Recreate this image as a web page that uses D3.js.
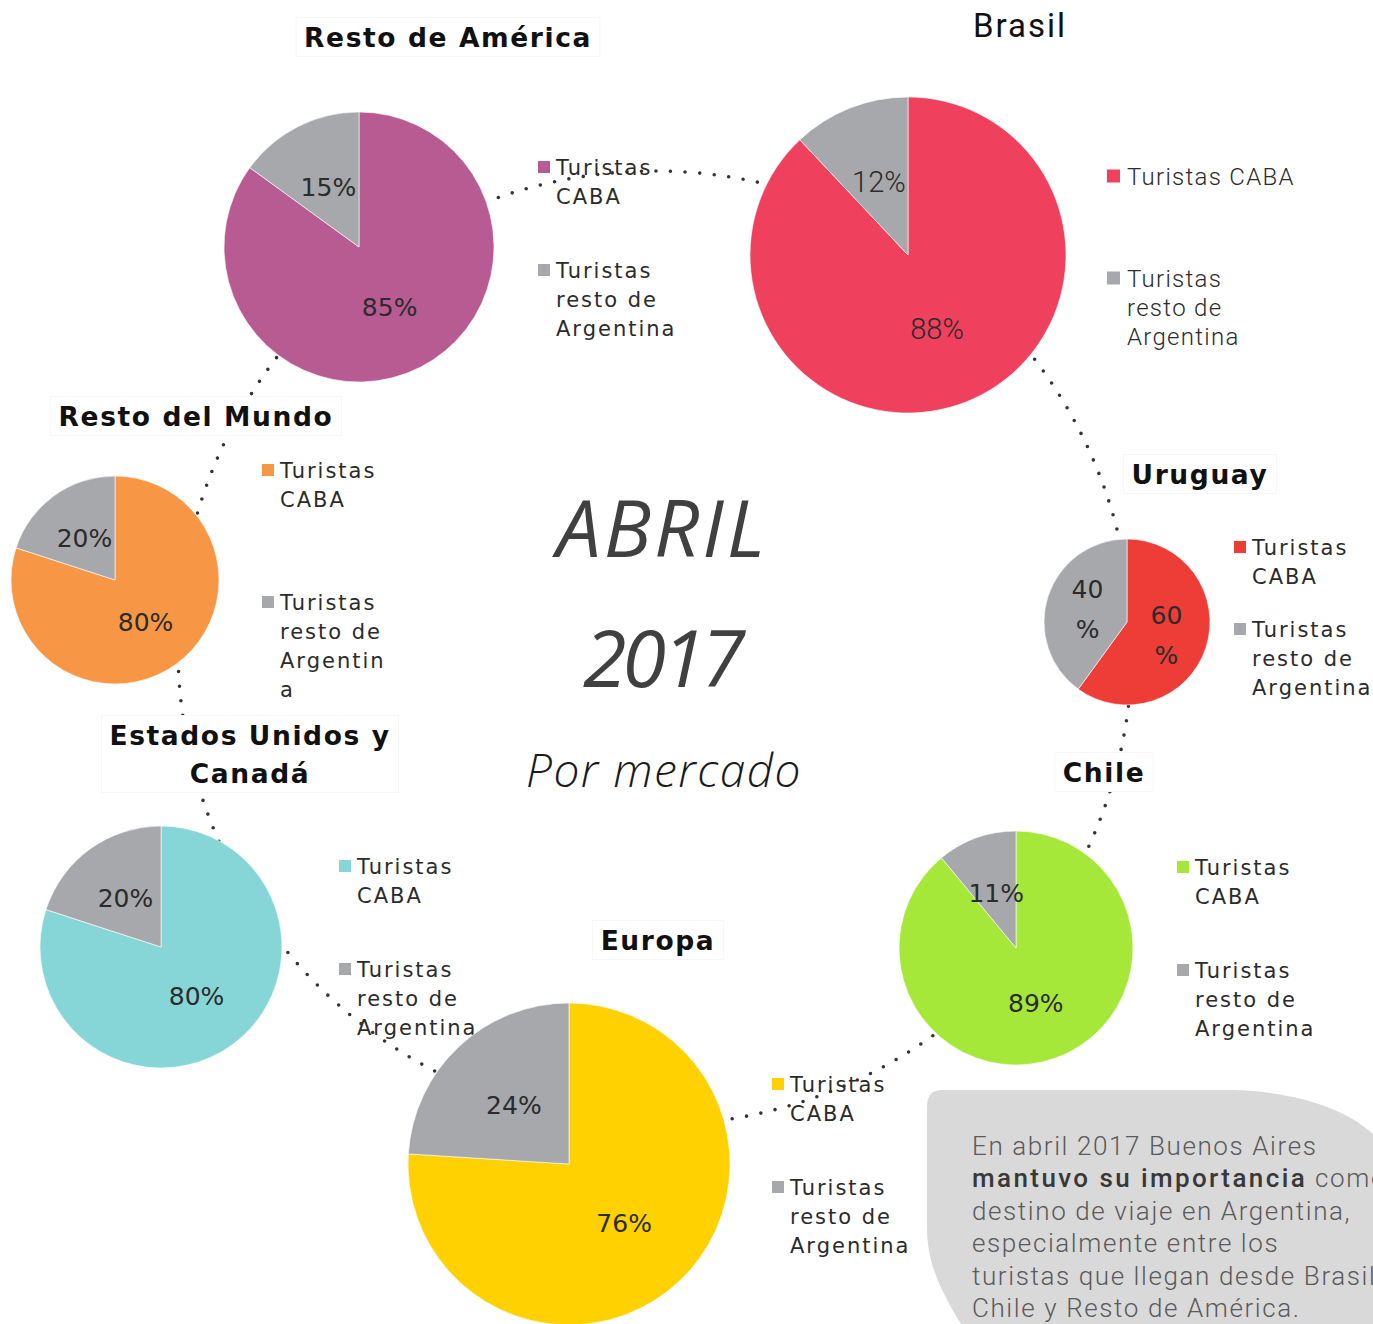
<!DOCTYPE html>
<html>
<head>
<meta charset="utf-8">
<title>Abril 2017 - Por mercado</title>
<script src="https://cdn.jsdelivr.net/npm/d3@7"></script>
<style>
body, html {
  margin: 0;
  padding: 0;
  background: #fff;
}
svg {
  display: block;
  overflow: hidden;
}
.legend text, .pct, .title {
  font-family: "DejaVu Sans", sans-serif;
  fill: #2b2b2b;
}
.title { font-weight: bold; fill: #111; }
.brasil text { font-family: Roboto, sans-serif; font-weight: 300; }
.brasil .title { font-weight: 400; }
.center-text { font-family: "Open Sans", sans-serif; font-style: italic; }
.note { font-family: Roboto, sans-serif; font-weight: 300; fill: #5a5a5a; }
</style>
</head>
<body>
<script>
// data
var markets = ["Resto de América", "Brasil", "Resto del Mundo", "Uruguay", "Chile", "Estados Unidos y Canadá", "Europa"];
var cabaPct = [85, 88, 80, 60, 89, 80, 76];
var restoPct = [15, 12, 20, 40, 11, 20, 24];
var marketColors = ["#b85b92", "#ef405e", "#f79746", "#ee3d37", "#a6e83a", "#86d6d8", "#ffd100"];
var restoColor = "#a7a8ac";
var legendLabels = ["Turistas CABA", "Turistas resto de Argentina"];
var titleLines = ["ABRIL", "2017"];
var subTitle = "Por mercado";
var noteLines = [
  [["En abril 2017 Buenos Aires", false]],
  [["mantuvo su importancia", true], [" como", false]],
  [["destino de viaje en Argentina,", false]],
  [["especialmente entre los", false]],
  [["turistas que llegan desde Brasil,", false]],
  [["Chile y Resto de América.", false]]
];

// layout of each pie (center, radius, title, legend)
var layout = [
  {cx: 359, cy: 247, r: 135, tx: 448, ty: [37], lx: 538, ly: [167, 270], wrap: 9},
  {cx: 908, cy: 255, r: 158, tx: 1020, ty: [25], lx: 1107, ly: [176, 278], wrap: 13, brasil: true},
  {cx: 115, cy: 580, r: 104, tx: 196, ty: [416], lx: 262, ly: [470, 602], wrap: 8, hard: true},
  {cx: 1127, cy: 622, r: 83, tx: 1200, ty: [474], lx: 1234, ly: [547, 629], wrap: 9, split: true},
  {cx: 1016, cy: 948, r: 117, tx: 1104, ty: [772], lx: 1177, ly: [867, 970], wrap: 9},
  {cx: 161, cy: 947, r: 121, tx: 250, ty: [735, 773], lx: 339, ly: [866, 969], wrap: 9, titleWrap: ["Estados Unidos y", "Canadá"]},
  {cx: 569, cy: 1164, r: 161, tx: 658, ty: [940], lx: 772, ly: [1084, 1187], wrap: 9}
];

var width = 1373, height = 1324;

var svg = d3.select("body").append("svg")
  .attr("width", width)
  .attr("height", height);

// simple word wrap; "hard" breaks words too
function wrapText(str, max, hard) {
  var words = str.split(" "), lines = [], cur = "";
  words.forEach(function(w) {
    var test = cur ? cur + " " + w : w;
    if (test.length <= max) { cur = test; }
    else {
      if (cur) lines.push(cur);
      cur = w;
    }
    while (hard && cur.length > max) {
      lines.push(cur.slice(0, max));
      cur = cur.slice(max);
    }
  });
  if (cur) lines.push(cur);
  return lines;
}

// grey note box
var boxG = svg.append("g");
boxG.append("path")
  .attr("d", "M927,1106 Q927,1090 943,1090 L1235,1090 C1295,1092 1345,1108 1373,1134 L1373,1324 L961,1324 C940,1290 927,1262 927,1228 Z")
  .attr("fill", "#d9d9d9");

var note = boxG.append("text").attr("class", "note").attr("font-size", 26).attr("letter-spacing", 1.6);
noteLines.forEach(function(parts, i) {
  var t = note.append("tspan").attr("x", 972).attr("y", 1155 + i * 32.4);
  parts.forEach(function(p, j) {
    var s = j == 0 ? t : note.append("tspan");
    s.text(p[0]);
    if (p[1]) s.attr("font-weight", 500).attr("fill", "#383838").attr("letter-spacing", 2.4);
  });
});

// legends
var legendG = svg.append("g").attr("class", "legend");
layout.forEach(function(L, i) {
  var g = legendG.append("g").attr("class", L.brasil ? "brasil" : null);
  legendLabels.forEach(function(lab, k) {
    var sq = L.brasil ? 13 : 12;
    g.append("rect")
      .attr("x", L.lx).attr("y", L.ly[k] - sq / 2)
      .attr("width", sq).attr("height", sq)
      .attr("fill", k == 0 ? marketColors[i] : restoColor);
    var lines = wrapText(lab, L.wrap, L.hard);
    lines.forEach(function(line, n) {
      g.append("text")
        .attr("x", L.lx + (L.brasil ? 20 : 18))
        .attr("y", L.ly[k] + n * 29.3)
        .attr("dy", "0.36em")
        .attr("font-size", L.brasil ? 24 : 21)
        .attr("letter-spacing", L.brasil ? 1.3 : 2)
        .text(line);
    });
  });
});

// dotted ring linking the markets
svg.append("circle")
  .attr("cx", 655).attr("cy", 648).attr("r", 477)
  .attr("fill", "none")
  .attr("stroke", "#333")
  .attr("stroke-width", 3.6)
  .attr("stroke-linecap", "round")
  .attr("stroke-dasharray", "0 14.6");

// titles with white backing boxes
var titleG = svg.append("g");
layout.forEach(function(L, i) {
  var g = titleG.append("g").attr("class", L.brasil ? "brasil" : null);
  var lines = L.titleWrap || [markets[i]];
  var texts = lines.map(function(line, n) {
    return g.append("text")
      .attr("class", "title")
      .attr("x", L.tx).attr("y", L.ty[n])
      .attr("dy", "0.36em")
      .attr("text-anchor", "middle")
      .attr("font-size", L.brasil ? 33 : 26.5)
      .attr("letter-spacing", L.brasil ? 2 : 1.6)
      .text(line);
  });
  if (!L.brasil) {
    var x0 = Infinity, y0 = Infinity, x1 = -Infinity, y1 = -Infinity;
    texts.forEach(function(t) {
      var b = t.node().getBBox();
      x0 = Math.min(x0, b.x); y0 = Math.min(y0, b.y);
      x1 = Math.max(x1, b.x + b.width); y1 = Math.max(y1, b.y + b.height);
    });
    g.insert("rect", "text")
      .attr("x", x0 - 8).attr("y", y0 - 4)
      .attr("width", x1 - x0 + 16).attr("height", y1 - y0 + 8)
      .attr("fill", "#fff")
      .attr("stroke", "#f7f7f7");
  }
});

// pies
var pie = d3.pie().sort(null).value(function(d) { return d.v; });
var pieG = svg.append("g");
layout.forEach(function(L, i) {
  var arc = d3.arc().innerRadius(0).outerRadius(L.r);
  var data = pie([{v: cabaPct[i], c: marketColors[i]}, {v: restoPct[i], c: restoColor}]);
  var g = pieG.append("g")
    .attr("class", L.brasil ? "brasil" : null)
    .attr("transform", "translate(" + L.cx + "," + L.cy + ")");
  g.selectAll("path").data(data).enter().append("path")
    .attr("d", arc)
    .attr("fill", function(d) { return d.data.c; })
    .attr("stroke", "#fff")
    .attr("stroke-width", 0.6);
  g.selectAll("text.pct").data(data).enter().append("text")
    .attr("class", "pct")
    .attr("text-anchor", "middle")
    .attr("font-size", L.brasil ? 29 : 25)
    .attr("transform", function(d) { return "translate(" + arc.centroid(d) + ")"; })
    .each(function(d) {
      var t = d3.select(this);
      if (L.split) {
        t.append("tspan").attr("x", 0).attr("y", -20).attr("dy", "0.36em").text(d.data.v);
        t.append("tspan").attr("x", 0).attr("y", 20).attr("dy", "0.36em").text("%");
      } else {
        t.attr("dy", "0.36em").text(d.data.v + "%");
      }
    });
});

// center heading
var center = svg.append("g").attr("class", "center-text").attr("text-anchor", "middle");
titleLines.forEach(function(line, n) {
  center.append("text")
    .attr("x", 662).attr("y", 557 + n * 130)
    .attr("font-size", 79)
    .attr("letter-spacing", n == 0 ? 3 : -4)
    .attr("fill", "#404040")
    .text(line);
});
center.append("text")
  .attr("x", 664).attr("y", 787)
  .attr("font-size", 46)
  .attr("font-weight", 300)
  .attr("letter-spacing", 1.5)
  .attr("fill", "#1a1a1a")
  .text(subTitle);
</script>
</body>
</html>
